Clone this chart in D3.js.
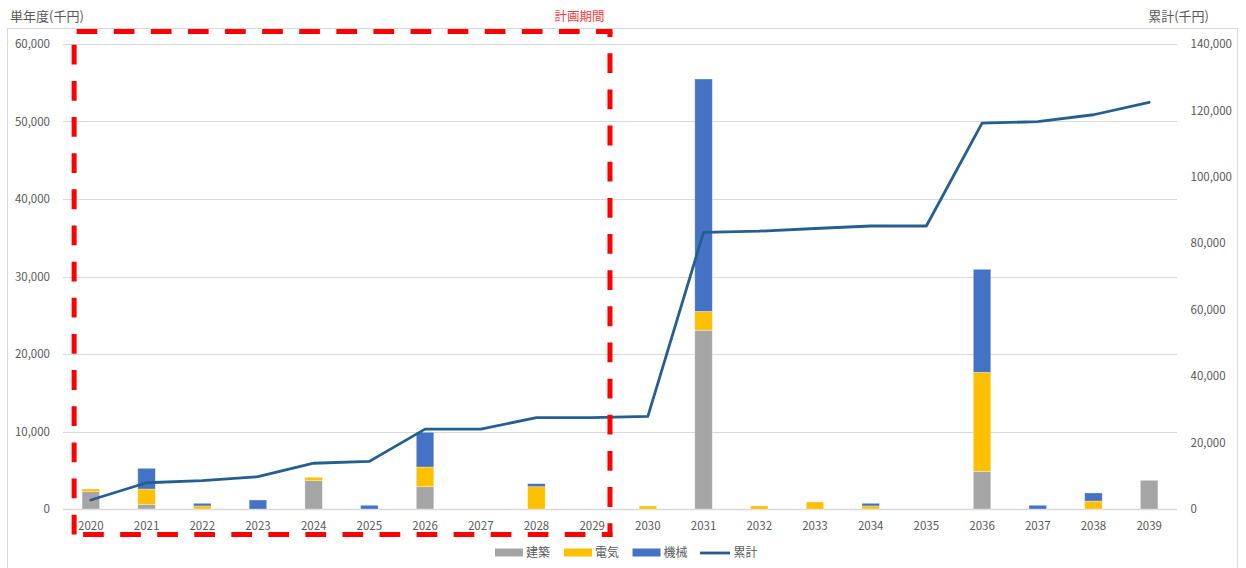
<!DOCTYPE html>
<html lang="ja">
<head>
<meta charset="utf-8">
<script src="https://cdn.jsdelivr.net/npm/d3@7"></script>
<style>
  html, body { margin: 0; padding: 0; background: #fff; }
  svg { display: block; font-family: "Noto Sans CJK JP", "Noto Sans", sans-serif; }
</style>
</head>
<body>
<svg id="chart" width="1246" height="568"></svg>
<script>
// Fiscal years
const years = ["2020","2021","2022","2023","2024","2025","2026","2027","2028","2029",
               "2030","2031","2032","2033","2034","2035","2036","2037","2038","2039"];

// Annual cost per discipline (thousand yen)
const kenchiku = [2230, 600, 0, 0, 3650, 0, 2880, 0, 0, 0, 0, 23060, 0, 0, 0, 0, 4860, 0, 0, 3700];
const denki    = [350, 1980, 390, 0, 440, 0, 2540, 0, 2880, 0, 390, 2440, 390, 900, 390, 0, 12780, 0, 1030, 0];
const kikai    = [0, 2670, 345, 1160, 0, 480, 4480, 0, 390, 0, 0, 29980, 0, 0, 345, 0, 13290, 480, 1035, 0];

// Running total (thousand yen)
const ruikei = [2700, 7900, 8550, 9720, 13780, 14350, 24050, 24050, 27500, 27500,
                27900, 83300, 83650, 84450, 85200, 85200, 116200, 116600, 118700, 122450];

// Axis ticks
const leftTicks  = [0, 10000, 20000, 30000, 40000, 50000, 60000];
const rightTicks = [0, 20000, 40000, 60000, 80000, 100000, 120000, 140000];

// Series names and colours
const seriesKeys   = ["建築", "電気", "機械"];
const seriesColors = ["#A5A5A5", "#FFC000", "#4472C4"];
const lineName  = "累計";
const lineColor = "#255E91";

// Planning period span
const planStart = "2020", planEnd = "2029";
const planLabel = "計画期間";

const svg = d3.select("#chart");
const W = 1246;
const plot = { left: 63, right: 1177, top: 44, bottom: 509 };
const textColor = "#595959";
const gridColor = "#D9D9D9";

// Outer chart frame
svg.append("rect")
  .attr("x", 7.5).attr("y", 28.5)
  .attr("width", 1230).attr("height", 600)
  .attr("fill", "none").attr("stroke", gridColor).attr("stroke-width", 1);

const x = d3.scaleBand().domain(years).range([plot.left, plot.right])
  .paddingInner(0.686).paddingOuter(0.343);
const yL = d3.scaleLinear().domain([0, 60000]).range([plot.bottom, plot.top]);
const yR = d3.scaleLinear().domain([0, 140000]).range([plot.bottom, plot.top]);
const fmt = d3.format(",");

// Gridlines
svg.append("g").selectAll("line").data(leftTicks).join("line")
  .attr("x1", plot.left).attr("x2", plot.right)
  .attr("y1", d => Math.round(yL(d)) + 0.5).attr("y2", d => Math.round(yL(d)) + 0.5)
  .attr("stroke", gridColor)
  .attr("stroke-width", d => d === 0 ? 1.6 : 1);

// Left axis labels
svg.append("g").selectAll("text").data(leftTicks).join("text")
  .attr("x", plot.left - 13).attr("y", d => yL(d))
  .attr("dy", "0.36em").attr("text-anchor", "end")
  .attr("font-size", 11.5).attr("fill", textColor)
  .text(d => fmt(d));

// Right axis labels
svg.append("g").selectAll("text").data(rightTicks).join("text")
  .attr("x", plot.right + 13.5).attr("y", d => yR(d))
  .attr("dy", "0.36em").attr("text-anchor", "start")
  .attr("font-size", 11.5).attr("fill", textColor)
  .text(d => fmt(d));

// Category labels
svg.append("g").selectAll("text").data(years).join("text")
  .attr("x", d => x(d) + x.bandwidth() / 2).attr("y", 530)
  .attr("text-anchor", "middle")
  .attr("font-size", 11.5).attr("fill", textColor)
  .text(d => d);

// Axis titles
svg.append("text").attr("x", 10).attr("y", 21)
  .attr("font-size", 13).attr("fill", textColor).text("単年度(千円)");
svg.append("text").attr("x", 1209).attr("y", 21).attr("text-anchor", "end")
  .attr("font-size", 13).attr("fill", textColor).text("累計(千円)");

// Stacked bars
const rows = years.map((yr, i) => ({ year: yr, "建築": kenchiku[i], "電気": denki[i], "機械": kikai[i] }));
const stacked = d3.stack().keys(seriesKeys)(rows);
svg.append("g").selectAll("g").data(stacked).join("g")
  .attr("fill", (d, i) => seriesColors[i])
  .selectAll("rect").data(d => d.filter(s => s[1] - s[0] > 0)).join("rect")
  .attr("x", d => x(d.data.year))
  .attr("width", x.bandwidth())
  .attr("y", d => yL(d[1]))
  .attr("height", d => yL(d[0]) - yL(d[1]))
  .attr("stroke", "#ffffff").attr("stroke-opacity", 0.45).attr("stroke-width", 0.7);

// Cumulative line
const line = d3.line()
  .x((d, i) => x(years[i]) + x.bandwidth() / 2)
  .y(d => yR(d));
svg.append("path").datum(ruikei)
  .attr("d", line)
  .attr("fill", "none").attr("stroke", lineColor)
  .attr("stroke-width", 2.8).attr("stroke-linejoin", "round").attr("stroke-linecap", "round");

// Planning period frame (dashed red rectangle)
const step = x.step();
const fL = x(planStart) - x.paddingOuter() * step + step * 0.2;
const fR = x(planEnd) - x.paddingOuter() * step + step * 0.82;
const fT = plot.top - 12.5;
const fB = plot.bottom + 25.5;
const sw = 5;
const frame = svg.append("g").attr("fill", "none").attr("stroke", "#FF0000").attr("stroke-width", sw);
// each edge: [x1, y1, x2, y2, dash, gap, offset]
const edges = [
  [fL, fB, fL, fT, 19.8, 16.35, 0],
  [fL, fT, fR + sw / 2, fT, 20.7, 16.4, 34.6],
  [fR, fT, fR, fB + sw / 2, 19.8, 16.35, 14.35],
  [fR + sw / 2, fB, fL, fB, 20.7, 16.35, 10.05]
];
frame.selectAll("line").data(edges).join("line")
  .attr("x1", d => d[0]).attr("y1", d => d[1])
  .attr("x2", d => d[2]).attr("y2", d => d[3])
  .attr("stroke-dasharray", d => d[4] + " " + d[5])
  .attr("stroke-dashoffset", d => d[6]);

svg.append("text").attr("x", fR - 5.5).attr("y", 21).attr("text-anchor", "end")
  .attr("font-size", 12.5).attr("fill", "#FF3B3B").text(planLabel);

// Legend
const legend = svg.append("g").attr("font-size", 12).attr("fill", textColor);
const legendX = [495, 564, 632.5];
seriesKeys.forEach((k, i) => {
  legend.append("rect").attr("x", legendX[i]).attr("y", 548.5)
    .attr("width", 28).attr("height", 8).attr("fill", seriesColors[i]);
  legend.append("text").attr("x", legendX[i] + 31).attr("y", 557).text(k);
});
legend.append("line").attr("x1", 700).attr("x2", 730).attr("y1", 553).attr("y2", 553)
  .attr("stroke", lineColor).attr("stroke-width", 2.8);
legend.append("text").attr("x", 733.5).attr("y", 557).text(lineName);
</script>
</body>
</html>
